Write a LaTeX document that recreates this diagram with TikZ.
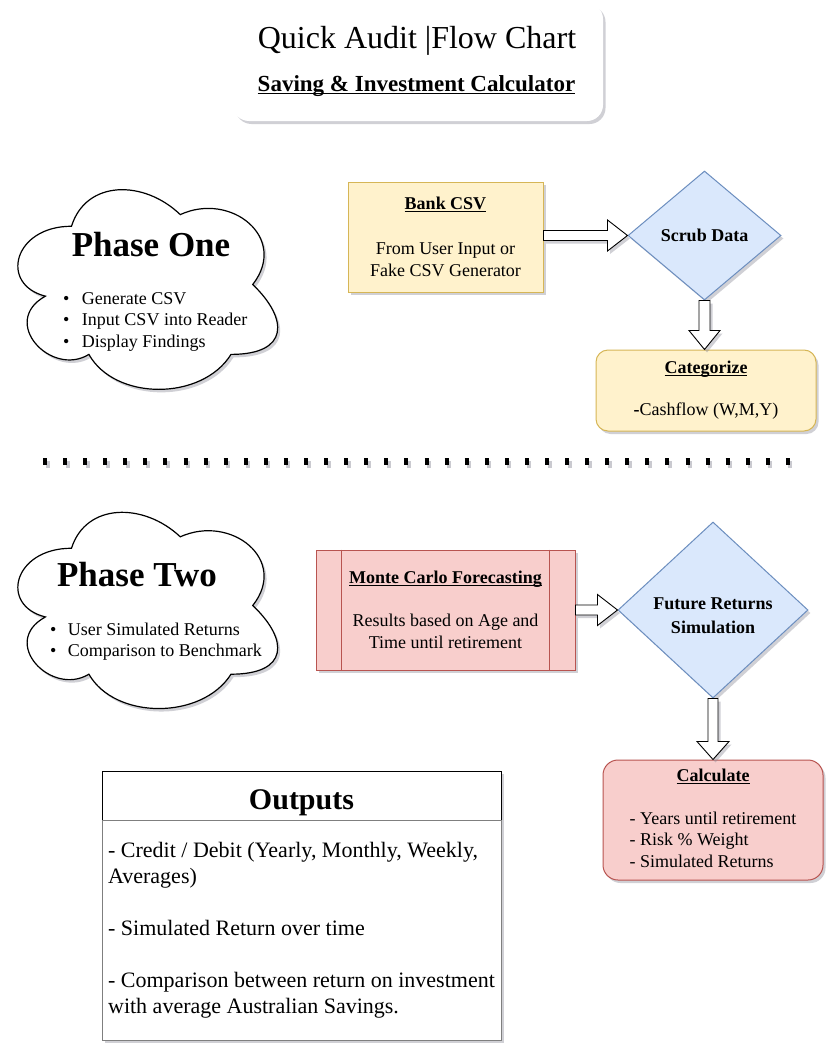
\documentclass[tikz,border=0pt]{standalone}
\usepackage{fontspec}
\setmainfont{Liberation Serif}
\usetikzlibrary{shapes.geometric,shadows,calc}

\newcommand\myul[1]{\setbox0\hbox{#1}\rlap{\rule[-0.13em]{\wd0}{0.055em}}\box0}

\definecolor{yelfill}{HTML}{FFF2CC}
\definecolor{yeldraw}{HTML}{D6B656}
\definecolor{bluefill}{HTML}{DAE8FC}
\definecolor{bluedraw}{HTML}{6C8EBF}
\definecolor{redfill}{HTML}{F8CECC}
\definecolor{reddraw}{HTML}{B85450}
\definecolor{shadowc}{HTML}{8A8A98}
\definecolor{outgray}{HTML}{7F7F7F}

\tikzset{
  shad/.style={drop shadow={shadow xshift=2.5pt, shadow yshift=-3pt, fill=shadowc, opacity=0.4}},
  bodytxt/.style={font=\fontsize{18}{21.5}\selectfont, align=center, inner sep=0pt},
  yelbox/.style={draw=yeldraw, fill=yelfill, line width=1pt, shad, bodytxt},
  redbox/.style={draw=reddraw, fill=redfill, line width=1pt, shad, bodytxt},
  bluediam/.style={diamond, draw=bluedraw, fill=bluefill, line width=1pt, shad, bodytxt, inner sep=0pt},
  blockarr/.style={draw=black, fill=white, line width=0.9pt, shad},
  cloudline/.style={draw=black, fill=white, line width=1.2pt, shad},
  dotline/.style={line width=7pt, dash pattern=on 4pt off 16.08pt}
}

\newcommand\mycloud[4]{%
  \begin{scope}[shift={(#1,#2)}, x=#3pt, y=-#4pt]
    \path[cloudline] (0.25,0.25) .. controls (0.05,0.25) and (0,0.5) .. (0.16,0.55)
      .. controls (0,0.66) and (0.18,0.9) .. (0.31,0.8)
      .. controls (0.4,1) and (0.7,1) .. (0.8,0.8)
      .. controls (1,0.8) and (1,0.65) .. (0.875,0.5)
      .. controls (1,0.3) and (0.8,0.1) .. (0.625,0.2)
      .. controls (0.5,0.05) and (0.3,0.05) .. (0.25,0.25) -- cycle;
  \end{scope}}

\begin{document}
\begin{tikzpicture}[x=1pt,y=-1pt]
\useasboundingbox[fill=white] (0,0) rectangle (835,1052);

% Title
\node[fill=white, rounded corners=16pt, minimum width=370pt, minimum height=118pt, shad] (titlebox) at (418,62) {};
\node[font=\fontsize{32}{36}\selectfont, inner sep=0pt] (t1) at (417,41) {Quick Audit |Flow Chart};
\node[font=\fontsize{23}{27}\selectfont\bfseries, inner sep=0pt] (t2) at (416.5,86) {\myul{Saving \& Investment Calculator}};

% Phase One cloud
\mycloud{-1}{168}{290}{233}
\node[font=\fontsize{35}{40}\selectfont\bfseries, inner sep=0pt] (p1title) at (151,245) {Phase One};
\node[anchor=west, font=\fontsize{18}{21.5}\selectfont, inner sep=0pt] (p1list) at (63,321.5)
  {\begin{tabular}{@{}l@{\hskip 12.5pt}l@{}}\textbullet & Generate CSV\\ \textbullet & Input CSV into Reader\\ \textbullet & Display Findings\end{tabular}};

% Phase One flow
\node[yelbox, minimum width=195pt, minimum height=110pt, font=\fontsize{18}{22.5}\selectfont] (bank) at (445.5,237)
  {\textbf{\myul{Bank CSV}}\\[22.5pt]From User Input or\\Fake CSV Generator};
\node[bluediam, minimum width=153pt, minimum height=129pt] (scrub) at (704.5,235.5) {\textbf{Scrub Data}};
\node[yelbox, rounded corners=12pt, minimum width=220pt, minimum height=81pt, font=\fontsize{18}{21}\selectfont] (cat) at (706,390.5)
  {\textbf{\myul{Categorize}}\\[21pt]\textbf{-}Cashflow (W,M,Y)};

\draw[blockarr] ($(bank.east |- scrub.west)+(0,-5)$) -- ($(scrub.west)+(-20,-5)$) -- ($(scrub.west)+(-20,-15.5)$)
  -- (scrub.west) -- ($(scrub.west)+(-20,15.5)$) -- ($(scrub.west)+(-20,5)$) -- ($(bank.east |- scrub.west)+(0,5)$) -- cycle;
\draw[blockarr] ($(scrub.south)+(-5.5,0)$) -- ($(scrub.south |- cat.north)+(-5.5,-19)$) -- ($(scrub.south |- cat.north)+(-15.5,-19)$)
  -- (scrub.south |- cat.north) -- ($(scrub.south |- cat.north)+(15.5,-19)$) -- ($(scrub.south |- cat.north)+(5.5,-19)$) -- ($(scrub.south)+(5.5,0)$) -- cycle;

% dotted separator
\coordinate (dotA) at (43,461);
\coordinate (dotB) at (790,461);
\draw[dotline, shadowc, opacity=0.45] ($(dotA)+(2.5,3)$) -- ($(dotB)+(2.5,3)$);
\draw[dotline, black] (dotA) -- (dotB);

% Phase Two cloud
\mycloud{-1}{491}{290}{229}
\node[font=\fontsize{35}{40}\selectfont\bfseries, inner sep=0pt] (p2title) at (137,575) {Phase Two};
\node[anchor=west, font=\fontsize{18}{21.5}\selectfont, inner sep=0pt] (p2list) at (50,641.5)
  {\begin{tabular}{@{}l@{\hskip 11.5pt}l@{}}\textbullet & User Simulated Returns\\ \textbullet & Comparison to Benchmark\end{tabular}};

% Phase Two flow
\node[redbox, minimum width=259pt, minimum height=120pt] (mc) at (445.5,610)
  {\textbf{\myul{Monte Carlo Forecasting}}\\[21.5pt]Results based on Age and\\Time until retirement};
\draw[draw=reddraw, line width=1pt] ($(mc.north west)+(26,0)$) -- ($(mc.south west)+(26,0)$);
\draw[draw=reddraw, line width=1pt] ($(mc.north east)+(-26,0)$) -- ($(mc.south east)+(-26,0)$);
\node[bluediam, minimum width=190pt, minimum height=176pt, font=\fontsize{18}{24}\selectfont] (fr) at (713,610)
  {\rule{0pt}{24pt}\textbf{Future Returns}\\\textbf{Simulation}};
\node[redbox, rounded corners=15pt, minimum width=220pt, minimum height=120pt] (calc) at (713,820)
  {\begin{tabular}{@{}l@{}}\multicolumn{1}{@{}c@{}}{\textbf{\myul{Calculate}}}\\[21.5pt]- Years until retirement\\- Risk \% Weight\\- Simulated Returns\end{tabular}};

\draw[blockarr] ($(mc.east)+(0,-5)$) -- ($(fr.west)+(-20,-5)$) -- ($(fr.west)+(-20,-15.5)$)
  -- (fr.west) -- ($(fr.west)+(-20,15.5)$) -- ($(fr.west)+(-20,5)$) -- ($(mc.east)+(0,5)$) -- cycle;
\draw[blockarr] ($(fr.south)+(-5,0)$) -- ($(calc.north)+(-5,-18)$) -- ($(calc.north)+(-16,-18)$)
  -- (calc.north) -- ($(calc.north)+(16,-18)$) -- ($(calc.north)+(5,-18)$) -- ($(fr.south)+(5,0)$) -- cycle;

% Outputs
\node[draw=black, fill=white, line width=1pt, shad, minimum width=399pt, minimum height=49pt, inner sep=0pt,
  text height=28pt, text depth=0pt,
  font=\fontsize{30}{34}\selectfont\bfseries] (outhead) at (301.5,795.5) {Outputs};
\node[draw=outgray, fill=white, line width=1pt, shad, minimum width=399pt, minimum height=220pt,
  inner sep=0pt, font=\fontsize{22}{26}\selectfont] (outbody) at (301.5,930)
  {\begin{tabular}{@{}l@{}}- Credit / Debit (Yearly, Monthly, Weekly,\\Averages)\\[26pt]- Simulated Return over time\\[26pt]- Comparison between return on investment\\with average Australian Savings.\end{tabular}};
\end{tikzpicture}
\end{document}
